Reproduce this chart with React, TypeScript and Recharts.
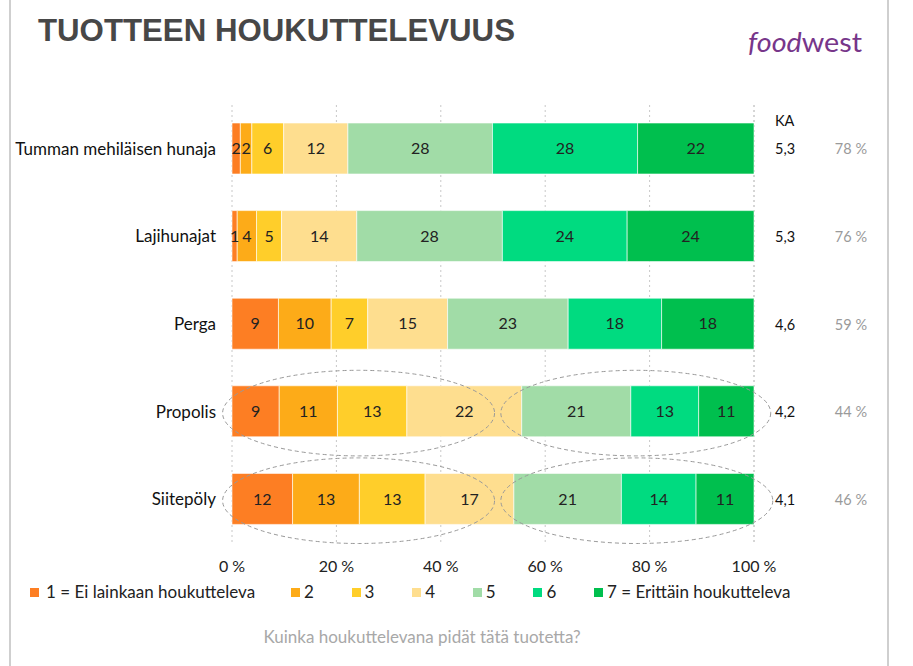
import React from 'react';
import { BarChart, Bar, XAxis, YAxis, CartesianGrid, LabelList, Legend, ReferenceArea } from 'recharts';

const FONT = 'Lato, "Open Sans", sans-serif';

const categories = ['Tumman mehiläisen hunaja', 'Lajihunajat', 'Perga', 'Propolis', 'Siitepöly'];
const s1 = [1.6, 1.0, 8.9, 9.05, 11.6];
const s2 = [2.2, 3.7, 10.1, 11.15, 12.8];
const s3 = [6.1, 4.8, 7.0, 13.3, 12.6];
const s4 = [12.3, 14.4, 15.3, 22.0, 17.0];
const s5 = [27.7, 27.9, 23.1, 20.9, 20.6];
const s6 = [27.8, 23.9, 17.9, 13.0, 14.3];
const s7 = [22.3, 24.3, 17.7, 10.6, 11.1];
const seriesNames = ['1 = Ei lainkaan houkutteleva', '2', '3', '4', '5', '6', '7 = Erittäin houkutteleva'];
const seriesColors = ['#FD7E23', '#FDAB18', '#FFCE2A', '#FEDE8F', '#A1DCA7', '#00DB80', '#00BF4E'];
const xTicks = [0, 20, 40, 60, 80, 100];
const kaValues = ['5,3', '5,3', '4,6', '4,2', '4,1'];
const shareValues = ['78 %', '76 %', '59 %', '44 %', '46 %'];
const ellipses = [
  { cat: 'Propolis', from: -1.8, to: 50.3 },
  { cat: 'Propolis', from: 51.5, to: 103.2 },
  { cat: 'Siitepöly', from: -1.8, to: 50.3 },
  { cat: 'Siitepöly', from: 51.5, to: 103.6 },
];

const allSeries = [s1, s2, s3, s4, s5, s6, s7];
const keys = ['v1', 'v2', 'v3', 'v4', 'v5', 'v6', 'v7'];
const data = categories.map((name, i) => {
  const row: any = { name };
  allSeries.forEach((s, j) => { row[keys[j]] = s[i]; });
  return row;
});

const RightTick = (props: any) => {
  const { x, y, index } = props;
  return (
    <g>
      {index === 0 && (
        <text x={x + 21} y={y - 26} fill="#111" fontSize={14.5} fontFamily={FONT} dominantBaseline="middle">KA</text>
      )}
      <text x={x + 21} y={y + 2} fill="#111" fontSize={14.5} fontFamily={FONT} dominantBaseline="middle">{kaValues[index]}</text>
      <text x={x + 113} y={y + 2} fill="#9a9a9a" fontSize={14.5} fontFamily={FONT} textAnchor="end" dominantBaseline="middle">{shareValues[index]}</text>
    </g>
  );
};

const EllipseShape = (props: any) => {
  const { x, y, width, height } = props;
  if (x == null || y == null) return null;
  return (
    <ellipse
      cx={x + width / 2}
      cy={y + height / 2 + 1.5}
      rx={Math.abs(width) / 2}
      ry={Math.abs(height) / 2 - 1}
      fill="none"
      stroke="#999"
      strokeWidth={1}
      strokeDasharray="4 3"
    />
  );
};

const LegendContent = (props: any) => {
  const payload = props.payload || [];
  return (
    <div style={{ position: 'relative', height: 0 }}>
      {payload.map((p: any, i: number) => (
        <div
          key={i}
          style={{
            position: 'absolute',
            left: i === 0 ? 30 : 291 + (i - 1) * 60.6,
            top: -2,
            display: 'flex',
            alignItems: 'center',
            whiteSpace: 'nowrap',
            fontFamily: FONT,
            fontSize: 17,
            color: '#222',
            lineHeight: '20px',
          }}
        >
          <span style={{ display: 'inline-block', width: 9, height: 9, background: p.color, marginRight: i === 0 ? 7 : 4 }} />
          <span>{p.value}</span>
        </div>
      ))}
    </div>
  );
};

export default function App() {
  return (
    <div style={{ position: 'absolute', left: 0, top: 0, width: 913, height: 666, background: '#fff' }}>
      <svg width={913} height={666} style={{ position: 'absolute', left: 0, top: 0 }}>
        <rect x={9} y={0} width={2} height={666} fill="#cfcfcf" />
        <rect x={887} y={0} width={2} height={666} fill="#cfcfcf" />
        <text x={38} y={41} fill="#474747" fontSize={31} fontWeight="bold" fontFamily='"Liberation Sans", Arial, sans-serif' textLength={477} lengthAdjust="spacingAndGlyphs">TUOTTEEN HOUKUTTELEVUUS</text>
        <text x={748} y={52} fill="#77368A" fontSize={27} fontFamily={FONT} textLength={114} lengthAdjust="spacingAndGlyphs">
          <tspan fontStyle="italic">food</tspan><tspan>west</tspan>
        </text>
        <text x={422} y={643} fill="#a8a8a8" fontSize={17} fontFamily={FONT} textAnchor="middle">Kuinka houkuttelevana pidät tätä tuotetta?</text>
      </svg>
      <div style={{ position: 'absolute', left: 0, top: 0 }}>
        <BarChart
          width={913}
          height={666}
          data={data}
          layout="vertical"
          margin={{ top: 105, right: 9, bottom: 93, left: 12 }}
          barSize={51}
        >
          <CartesianGrid horizontal={false} vertical={true} stroke="#c8c8c8" strokeDasharray="2 3" />
          <XAxis
            type="number"
            domain={[0, 100]}
            ticks={xTicks}
            tickFormatter={(v: number) => `${v} %`}
            axisLine={false}
            tickLine={false}
            tickMargin={12}
            height={30}
            interval={0}
            tick={{ fill: '#222', fontSize: 16, fontFamily: FONT }}
          />
          <YAxis
            yAxisId="left"
            type="category"
            dataKey="name"
            width={220}
            axisLine={false}
            tickLine={false}
            tickMargin={10}
            tick={{ fill: '#111', fontSize: 17, fontFamily: FONT }}
          />
          <YAxis
            yAxisId="right"
            orientation="right"
            type="category"
            dataKey="name"
            width={150}
            axisLine={false}
            tickLine={false}
            tickSize={0}
            tickMargin={0}
            tick={<RightTick />}
          />
          <Legend
            verticalAlign="bottom"
            content={<LegendContent />}
            wrapperStyle={{ position: 'absolute', top: 584, left: 0, height: 0, width: 913 }}
          />
          {keys.map((k, j) => (
            <Bar
              key={k}
              yAxisId="left"
              dataKey={k}
              name={seriesNames[j]}
              stackId="a"
              fill={seriesColors[j]}
              stroke="#ffffff"
              strokeWidth={0.6}
              isAnimationActive={false}
            >
              <LabelList
                dataKey={k}
                position="center"
                formatter={(v: number) => Math.round(v)}
                fill="#222"
                fontSize={16}
                fontFamily={FONT}
              />
            </Bar>
          ))}
          {ellipses.map((e, i) => (
            <ReferenceArea
              key={i}
              yAxisId="left"
              x1={e.from}
              x2={e.to}
              y1={e.cat}
              y2={e.cat}
              ifOverflow="visible"
              zIndex={1000}
              shape={<EllipseShape />}
            />
          ))}
        </BarChart>
      </div>
    </div>
  );
}
